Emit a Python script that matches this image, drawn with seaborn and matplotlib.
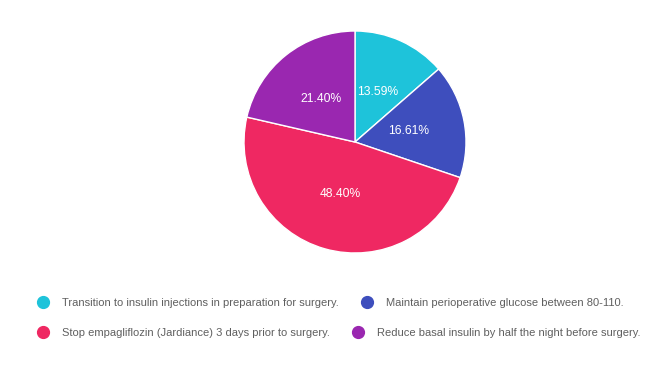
import matplotlib
matplotlib.use("Agg")
import matplotlib.pyplot as plt
from matplotlib.lines import Line2D
import seaborn as sns

labels = [
    "Transition to insulin injections in preparation for surgery.",
    "Maintain perioperative glucose between 80-110.",
    "Stop empagliflozin (Jardiance) 3 days prior to surgery.",
    "Reduce basal insulin by half the night before surgery.",
]
shares = [13.59, 16.61, 48.40, 21.40]
colors = sns.color_palette(["#1ec3da", "#3e4ebd", "#ef2862", "#9a27b0"])

sns.set_theme(style="white")
plt.rcParams["font.family"] = ["Liberation Sans", "DejaVu Sans"]

fig = plt.figure(figsize=(6.72, 3.72), dpi=100)
ax = fig.add_axes([244 / 672, 119 / 372, 222 / 672, 222 / 372])

wedges, texts, autotexts = ax.pie(
    shares, colors=colors, startangle=90, counterclock=False,
    autopct="%.2f%%", pctdistance=0.49,
    wedgeprops=dict(edgecolor="white", linewidth=1),
    textprops=dict(color="white", fontsize=8.7),
)
ax.set_xlim(-1.0, 1.0)
ax.set_ylim(-1.0, 1.0)
ax.set_aspect("equal")
ax.axis("off")

# two legend rows, each item flows after the previous one
rows = [(0, 1), (2, 3)]
ys = [1 - 303 / 372, 1 - 333 / 372]
for (a, b), y in zip(rows, ys):
    handles = [
        Line2D([], [], marker="o", linestyle="", markersize=8.5,
               markerfacecolor=colors[i], markeredgecolor=colors[i])
        for i in (a, b)
    ]
    leg = fig.legend(
        handles, [labels[a], labels[b]], ncol=2, frameon=False,
        loc="center left", bbox_to_anchor=(37.5 / 672, y),
        borderpad=0, borderaxespad=0, handlelength=1.0,
        handletextpad=1.2, columnspacing=2.05, fontsize=8.0,
        labelcolor="#5f5f5f",
    )

fig.savefig("out.png", dpi=100, facecolor="white")
